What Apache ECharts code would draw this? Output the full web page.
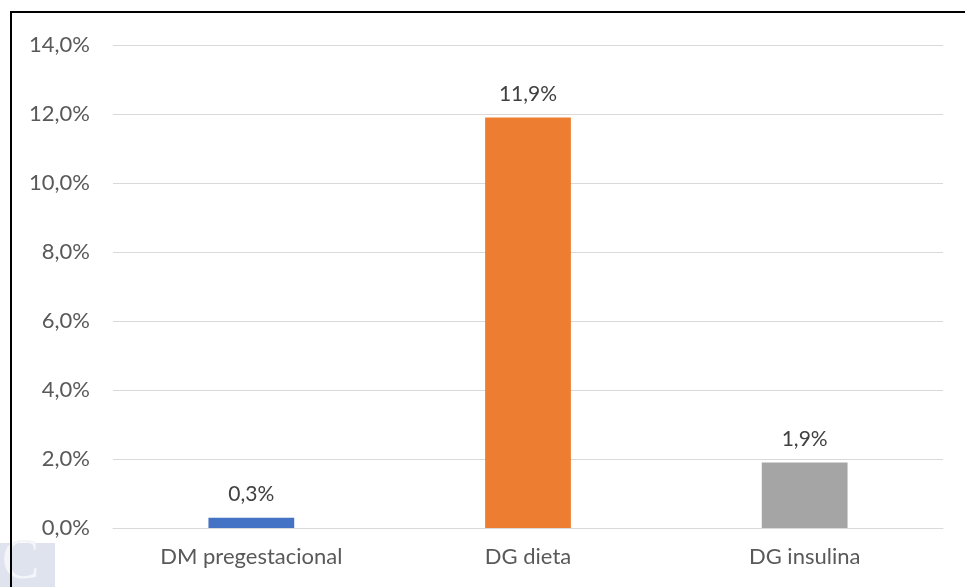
<!DOCTYPE html>
<html>
<head>
<meta charset="utf-8">
<script src="https://cdn.jsdelivr.net/npm/echarts@6/dist/echarts.min.js"></script>
<style>
html,body{margin:0;padding:0;background:#fff;}
#main{width:965px;height:587px;}
</style>
</head>
<body>
<div id="main"></div>
<script>
// datos
var categorias = ['DM pregestacional', 'DG dieta', 'DG insulina'];
var valores = [0.3, 11.9, 1.9];
var colores = ['#4472C4', '#ED7D31', '#A5A5A5'];

function pct(v){
	return v.toFixed(1).replace('.', ',') + '%';
}

var chart = echarts.init(document.getElementById('main'));
chart.setOption({
	animation: false,
	textStyle: {fontFamily: 'Lato'},
	grid: {left: 113, right: 22, top: 45, bottom: 59},
	xAxis: {
		type: 'category',
		data: categorias,
		axisLine: {lineStyle: {color: '#d9d9d9', width: 1}},
		axisTick: {show: false},
		axisLabel: {color: '#595959', fontSize: 22, margin: 18}
	},
	yAxis: {
		type: 'value',
		min: 0,
		max: 14,
		interval: 2,
		axisLine: {show: false},
		axisTick: {show: false},
		splitLine: {lineStyle: {color: '#d9d9d9', width: 1}},
		axisLabel: {color: '#595959', fontSize: 22, margin: 23, formatter: pct}
	},
	series: [{
		type: 'bar',
		barWidth: '31%',
		data: valores.map(function(v, i){
			return {value: v, itemStyle: {color: colores[i]}};
		}),
		label: {
			show: true,
			position: 'top',
			distance: 13,
			color: '#404040',
			fontSize: 21,
			formatter: function(p){ return pct(p.value); }
		}
	}],
	graphic: [
		{
			type: 'polyline',
			shape: {points: [[11, 587], [11, 12], [965, 12]]},
			style: {stroke: '#000', lineWidth: 2, fill: null}
		},
		{
			type: 'rect',
			shape: {x: 0, y: 543, width: 55, height: 44},
			style: {fill: '#dfe3ee'},
			z: -1
		},
		{
			type: 'text',
			left: 2,
			top: 535,
			style: {text: 'C', font: '56px "Liberation Serif"', fill: '#f4f5f9'},
			z: -1
		}
	]
});
</script>
</body>
</html>
